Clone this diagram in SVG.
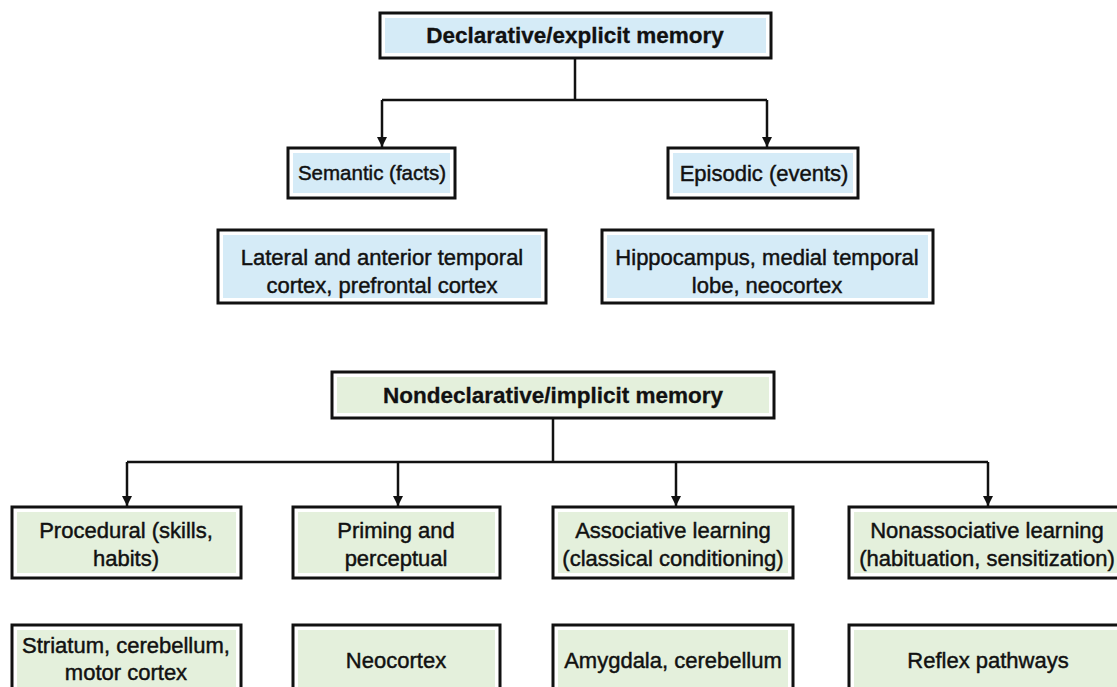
<svg xmlns="http://www.w3.org/2000/svg" width="1117" height="687" viewBox="0 0 1117 687">
<defs>
<style>
.box{fill:#fff;stroke:#111;stroke-width:3}
.blue{fill:#d5ebf7}
.green{fill:#e4f0dc}
text{font-family:"Liberation Sans",Arial,sans-serif;font-size:22px;fill:#111;stroke:#111;stroke-width:0.45;text-anchor:middle}
.h{font-weight:bold;font-size:22.5px;stroke-width:0.3}
.c{fill:none;stroke:#111;stroke-width:2.5}
</style>
<marker id="ar" markerWidth="10" markerHeight="11" refX="10" refY="5" orient="auto" markerUnits="userSpaceOnUse" viewBox="0 0 10 10">
<path d="M0,0 L10,5 L0,10 Z" fill="#111"/>
</marker>
</defs>
<rect width="1117" height="687" fill="#fff"/>
<g id="connectors">
<path class="c" d="M575 58 V100 M382 100 H767"/>
<path class="c" d="M382 100 V147" marker-end="url(#ar)"/>
<path class="c" d="M767 100 V147" marker-end="url(#ar)"/>
<path class="c" d="M553 418 V462 M127 462 H988"/>
<path class="c" d="M127 462 V506" marker-end="url(#ar)"/>
<path class="c" d="M398 462 V506" marker-end="url(#ar)"/>
<path class="c" d="M676 462 V506" marker-end="url(#ar)"/>
<path class="c" d="M988 462 V506" marker-end="url(#ar)"/>
</g>
<g id="declarative">
<rect class="box" x="380" y="13" width="391" height="45"/>
<rect class="blue" x="385" y="18" width="381" height="35"/>
<text class="h" x="575" y="43">Declarative/explicit memory</text>
</g>
<g id="semantic">
<rect class="box" x="288" y="148" width="167" height="50"/>
<rect class="blue" x="293" y="153" width="157" height="40"/>
<text x="372" y="180" style="font-size:20.5px">Semantic (facts)</text>
</g>
<g id="episodic">
<rect class="box" x="668" y="148" width="190" height="50"/>
<rect class="blue" x="673" y="153" width="180" height="40"/>
<text x="764" y="181">Episodic (events)</text>
</g>
<g id="lateral">
<rect class="box" x="218" y="230" width="328" height="73"/>
<rect class="blue" x="223" y="235" width="318" height="63"/>
<text x="382" y="265">Lateral and anterior temporal</text>
<text x="382" y="293">cortex, prefrontal cortex</text>
</g>
<g id="hippocampus">
<rect class="box" x="602" y="230" width="331" height="73"/>
<rect class="blue" x="607" y="235" width="321" height="63"/>
<text x="767" y="265">Hippocampus, medial temporal</text>
<text x="767" y="293">lobe, neocortex</text>
</g>
<g id="nondeclarative">
<rect class="box" x="332" y="372" width="442" height="46"/>
<rect class="green" x="337" y="377" width="432" height="36"/>
<text class="h" x="553" y="403">Nondeclarative/implicit memory</text>
</g>
<g id="procedural">
<rect class="box" x="12" y="507" width="229" height="71"/>
<rect class="green" x="17" y="512" width="219" height="61"/>
<text x="126" y="538">Procedural (skills,</text>
<text x="126" y="566">habits)</text>
</g>
<g id="priming">
<rect class="box" x="293" y="507" width="207" height="71"/>
<rect class="green" x="298" y="512" width="197" height="61"/>
<text x="396" y="538">Priming and</text>
<text x="396" y="566">perceptual</text>
</g>
<g id="associative">
<rect class="box" x="553" y="507" width="240" height="71"/>
<rect class="green" x="558" y="512" width="230" height="61"/>
<text x="673" y="538">Associative learning</text>
<text x="673" y="566">(classical conditioning)</text>
</g>
<g id="nonassociative">
<rect class="box" x="849" y="507" width="290" height="71"/>
<rect class="green" x="854" y="512" width="280" height="61"/>
<text x="987" y="538">Nonassociative learning</text>
<text x="987" y="566">(habituation, sensitization)</text>
</g>
<g id="striatum">
<rect class="box" x="12" y="625" width="229" height="72"/>
<rect class="green" x="17" y="630" width="219" height="62"/>
<text x="126" y="653">Striatum, cerebellum,</text>
<text x="126" y="680">motor cortex</text>
</g>
<g id="neocortex">
<rect class="box" x="293" y="625" width="207" height="72"/>
<rect class="green" x="298" y="630" width="197" height="62"/>
<text x="396" y="668">Neocortex</text>
</g>
<g id="amygdala">
<rect class="box" x="553" y="625" width="240" height="72"/>
<rect class="green" x="558" y="630" width="230" height="62"/>
<text x="673" y="668">Amygdala, cerebellum</text>
</g>
<g id="reflex">
<rect class="box" x="849" y="625" width="290" height="72"/>
<rect class="green" x="854" y="630" width="280" height="62"/>
<text x="988" y="668">Reflex pathways</text>
</g>
</svg>
